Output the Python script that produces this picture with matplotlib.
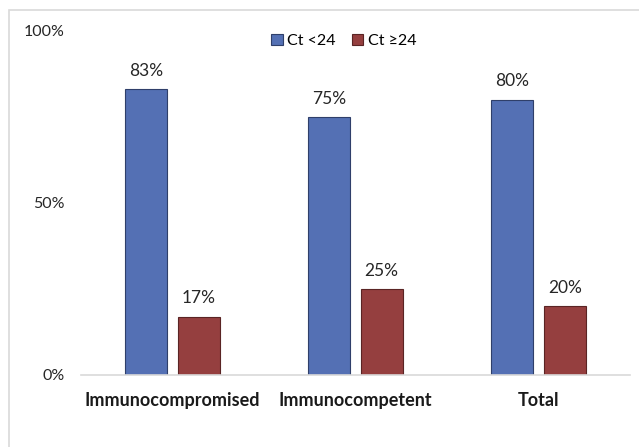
import matplotlib
matplotlib.use("Agg")
import matplotlib.pyplot as plt
from matplotlib.patches import Rectangle
import numpy as np

plt.rcParams['font.family'] = ['Lato', 'DejaVu Sans']

categories = ["Immunocompromised", "Immunocompetent", "Total"]
ct_below_24 = [83, 75, 80]
ct_above_24 = [17, 25, 20]
series_names = ["Ct <24", "Ct \u226524"]
yticks = [0, 50, 100]
ytick_labels = ["0%", "50%", "100%"]

blue = "#5470B4"
blue_edge = "#2F3F6A"
red = "#953F3F"
red_edge = "#5A2424"

W, H = 639, 447
fig = plt.figure(figsize=(W / 100, H / 100), dpi=100)

# light grey chart frame (right/bottom run off the canvas)
fig.patches.append(Rectangle((9 / W, -0.1), 1.2, (447 - 10) / H + 0.1,
                             transform=fig.transFigure, fill=False,
                             edgecolor="#D9D9D9", linewidth=1.2))

ax = fig.add_axes([81 / W, (H - 375) / H, 549 / W, 344 / H])
x = np.arange(len(categories))
bw = 0.23
off = 0.143
b1 = ax.bar(x - off, ct_below_24, bw, color=blue, edgecolor=blue_edge, linewidth=0.8, label=series_names[0])
b2 = ax.bar(x + off, ct_above_24, bw, color=red, edgecolor=red_edge, linewidth=0.8, label=series_names[1])

for bars, vals in ((b1, ct_below_24), (b2, ct_above_24)):
    for r, v in zip(bars, vals):
        ax.text(r.get_x() + r.get_width() / 2, v + 3.0, f"{v}%", ha="center", va="bottom",
                fontsize=12.5, color="#262626")

ax.set_xlim(-0.5, len(categories) - 0.5)
ax.set_ylim(0, 100)
ax.set_yticks(yticks)
ax.set_yticklabels(ytick_labels, fontsize=11.5, color="#262626")
ax.set_xticks(x)
ax.set_xticklabels(categories, fontsize=13, fontweight="bold", color="#1a1a1a")
ax.tick_params(axis="both", length=0)
ax.tick_params(axis="y", pad=12)
ax.tick_params(axis="x", pad=12)
for s in ("top", "right", "left"):
    ax.spines[s].set_visible(False)
ax.spines["bottom"].set_color("#D9D9D9")
ax.spines["bottom"].set_linewidth(1.2)

ax.legend(loc="center", bbox_to_anchor=(344 / W, (H - 41) / H), bbox_transform=fig.transFigure,
          ncol=2, frameon=False, fontsize=11.5, handlelength=0.7, handleheight=0.7,
          handletextpad=0.3, columnspacing=1.0)

fig.savefig("out.png", dpi=100, facecolor="white")
